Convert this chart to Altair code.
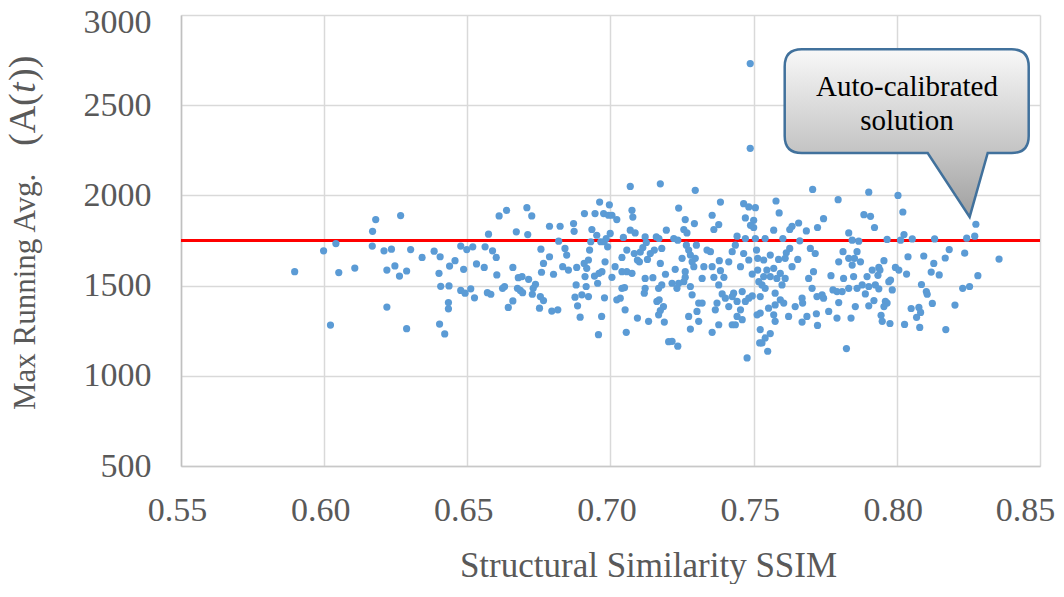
import altair as alt
import pandas as pd

# ---- data ----
ssim_a = [0.5897, 0.5998, 0.6041, 0.6051, 0.6022, 0.6107, 0.6180, 0.6169, 0.6168, 0.6209,
          0.6235, 0.6219, 0.6247, 0.6263, 0.6288, 0.6219, 0.6288, 0.6267, 0.6302, 0.6342]
avg_a = [1577, 1693, 1733, 1572, 1281, 1597, 1866, 1801, 1719, 1693,
         1702, 1586, 1609, 1553, 1581, 1381, 1261, 1888, 1700, 1656]

ssim_b = [0.6384, 0.6405, 0.6401, 0.6407, 0.6403, 0.6421, 0.6434, 0.6434, 0.6436, 0.6438,
          0.6457, 0.6487, 0.6477, 0.6498, 0.6519, 0.6477, 0.6492, 0.6512, 0.6525, 0.6532,
          0.6559, 0.6562, 0.6574, 0.6588, 0.6601, 0.6603, 0.6611, 0.6637, 0.6570, 0.6582,
          0.6623, 0.6630, 0.6643, 0.6659, 0.6659, 0.6671, 0.6678, 0.6691, 0.6675, 0.6685,
          0.6693, 0.6711, 0.6708, 0.6725, 0.6714, 0.6730, 0.6738, 0.6727, 0.6755, 0.6766,
          0.6752, 0.6757, 0.6766, 0.6759, 0.6787, 0.6787, 0.6801, 0.6795, 0.6816, 0.6819]
avg_b = [1691, 1660, 1568, 1496, 1287, 1232, 1406, 1371, 1498, 1608,
         1638, 1590, 1719, 1700, 1715, 1473, 1458, 1482, 1432, 1620,
         1601, 1715, 1785, 1693, 1656, 1559, 1886, 1917, 1461, 1452,
         1485, 1495, 1379, 1415, 1601, 1798, 1544, 1550, 1485, 1473,
         1461, 1783, 1932, 1886, 1535, 1485, 1507, 1452, 1439, 1417,
         1375, 1702, 1623, 1574, 1660, 1829, 1563, 1359, 1366, 1746]

ssim_c = [0.6824, 0.6841, 0.6847, 0.6833, 0.6853, 0.6871, 0.6873, 0.6882, 0.6880, 0.6876,
          0.6885, 0.6894, 0.6900, 0.6909, 0.6908, 0.6911, 0.6917, 0.6923, 0.6915, 0.6923,
          0.6927, 0.6935, 0.6931, 0.6946, 0.6944, 0.6952, 0.6955, 0.6962, 0.6960, 0.6970,
          0.6966, 0.6976, 0.6978, 0.6981, 0.6990, 0.6985, 0.6996, 0.6999, 0.6993, 0.7005,
          0.7022, 0.7005, 0.7016, 0.6979, 0.6969, 0.6958, 0.7022, 0.7034, 0.7040, 0.7049,
          0.7051, 0.7057, 0.7040, 0.7040, 0.7045, 0.7057, 0.7069, 0.7075, 0.7075, 0.7078,
          0.7069, 0.7086, 0.7083, 0.7094, 0.7104, 0.7113, 0.7101, 0.7121, 0.7125, 0.7129,
          0.7121, 0.7118, 0.7121, 0.7133, 0.7139, 0.7148, 0.7153, 0.7160, 0.7169, 0.7174,
          0.7168, 0.7162, 0.7170, 0.7168, 0.7174, 0.7179, 0.7185, 0.7188, 0.7192, 0.7195,
          0.7174, 0.7179, 0.7203, 0.7055, 0.7094]
avg_c = [1829, 1706, 1669, 1605, 1586, 1844, 1801, 1601, 1504, 1436,
         1388, 1325, 1449, 1899, 1623, 1550, 1596, 1642, 1495, 1439,
         1697, 1811, 1743, 1899, 1553, 1779, 1513, 1963, 1568, 1577,
         1743, 1899, 1743, 1632, 1715, 1761, 1948, 1789, 1890, 1890,
         1866, 1546, 1605, 1432, 1329, 1228, 1421, 1430, 1485, 1489,
         1366, 1577, 1656, 1577, 1767, 1697, 2050, 1568, 1917, 1880,
         1807, 1792, 1678, 1642, 1686, 1711, 1632, 1770, 1739, 1645,
         1540, 1458, 1485, 1302, 1678, 1544, 1697, 1770, 1761, 2064,
         1485, 1412, 1421, 1338, 1362, 1706, 1384, 1298, 1563, 1807,
         1623, 1504, 1189, 1241, 1320]

ssim_d = [0.7296, 0.7238, 0.7261, 0.7256, 0.7267, 0.7293, 0.7221, 0.7235, 0.7265, 0.7273,
          0.7300, 0.7279, 0.7250, 0.7285, 0.7296, 0.7226, 0.7261, 0.7291, 0.7326, 0.7337,
          0.7349, 0.7355, 0.7380, 0.7320, 0.7361, 0.7384, 0.7396, 0.7413, 0.7425, 0.7436,
          0.7442, 0.7454, 0.7465, 0.7471, 0.7483, 0.7495, 0.7215, 0.7256, 0.7279, 0.7232,
          0.7285, 0.7308, 0.7320, 0.7302, 0.7273, 0.7308, 0.7366, 0.7372, 0.7378, 0.7390,
          0.7401, 0.7413, 0.7425, 0.7430, 0.7442, 0.7454, 0.7460, 0.7471, 0.7483, 0.7495,
          0.7442, 0.7425, 0.7436, 0.7460, 0.7378, 0.7355, 0.7279, 0.7215, 0.7235, 0.7477,
          0.7355, 0.7361, 0.7378, 0.7384, 0.7465, 0.7483, 0.7506, 0.7471, 0.7500, 0.7500,
          0.7506, 0.7510, 0.7514, 0.7514, 0.7518, 0.7512, 0.7521, 0.7489, 0.7238, 0.7261,
          0.7488, 0.7488]
avg_d = [2028, 1930, 1866, 1811, 1792, 1844, 1761, 1752, 1724, 1697,
         1724, 1669, 1651, 1632, 1651, 1590, 1577, 1605, 1605, 1697,
         1688, 1605, 1638, 1540, 1546, 1583, 1546, 1632, 1688, 1724,
         1774, 1605, 1678, 1761, 1642, 1564, 1513, 1522, 1495, 1485,
         1449, 1403, 1403, 1357, 1329, 1302, 1366, 1403, 1504, 1454,
         1430, 1384, 1439, 1458, 1412, 1366, 1467, 1412, 1430, 1443,
         1329, 1283, 1283, 1311, 1283, 1241, 1259, 1191, 1164, 1099,
         1890, 1811, 1838, 1963, 1954, 1936, 1932, 1875, 1862, 1822,
         1761, 1697, 1651, 1586, 1522, 1338, 1182, 1834, 1513, 1546,
         2731, 2261]

ssim_e = [0.7706, 0.7578, 0.7589, 0.7795, 0.7744, 0.7657, 0.7634, 0.7626, 0.7684, 0.7723,
          0.7570, 0.7540, 0.7602, 0.7661, 0.7698, 0.7715, 0.7626, 0.7614, 0.7610, 0.7587,
          0.7558, 0.7535, 0.7546, 0.7570, 0.7634, 0.7654, 0.7593, 0.7610, 0.7599, 0.7581,
          0.7558, 0.7535, 0.7529, 0.7540, 0.7523, 0.7575, 0.7593, 0.7605, 0.7575, 0.7552,
          0.7570, 0.7575, 0.7523, 0.7622, 0.7645, 0.7669, 0.7671, 0.7692, 0.7709, 0.7704,
          0.7721, 0.7739, 0.7744, 0.7719, 0.7686, 0.7669, 0.7723, 0.7762, 0.7770, 0.7777,
          0.7791, 0.7809, 0.7797, 0.7791, 0.7814, 0.7832, 0.7840, 0.7855, 0.7861, 0.7832,
          0.7812, 0.7797, 0.7832, 0.7844, 0.7849, 0.7852, 0.7861, 0.7844, 0.7867, 0.7523,
          0.7540, 0.7558, 0.7529, 0.7549, 0.7824]
avg_e = [2033, 1969, 1903, 1976, 1871, 1847, 1829, 1811, 1803, 1822,
         1807, 1761, 1761, 1748, 1706, 1678, 1706, 1682, 1651, 1645,
         1669, 1642, 1586, 1596, 1605, 1645, 1568, 1540, 1504, 1540,
         1550, 1550, 1504, 1485, 1439, 1458, 1421, 1403, 1393, 1375,
         1338, 1302, 1348, 1329, 1384, 1430, 1403, 1540, 1577, 1485,
         1439, 1449, 1430, 1344, 1329, 1298, 1279, 1357, 1555, 1476,
         1467, 1467, 1406, 1320, 1540, 1485, 1320, 1384, 1485, 1792,
         1688, 1632, 1651, 1614, 1550, 1651, 1688, 1752, 1746, 1256,
         1210, 1234, 1182, 1136, 1151]

ssim_f = [0.7902, 0.8004, 0.7885, 0.7908, 0.8021, 0.7922, 0.8025, 0.8013, 0.7966, 0.8054,
          0.8132, 0.8244, 0.8272, 0.8276, 0.8183, 0.8237, 0.8169, 0.8094, 0.8039, 0.8129,
          0.7955, 0.7873, 0.7995, 0.8007, 0.8034, 0.8120, 0.8148, 0.8283, 0.8357, 0.7914,
          0.7937, 0.7941, 0.7934, 0.7896, 0.7972, 0.7978, 0.7879, 0.7902, 0.7925, 0.7937,
          0.7890, 0.7984, 0.8086, 0.8103, 0.8106, 0.8230, 0.8254, 0.7960, 0.7966, 0.7955,
          0.7920, 0.7902, 0.8124, 0.8203, 0.8050, 0.8077, 0.8083, 0.8069, 0.7945, 0.7949,
          0.7976, 0.8027, 0.8080, 0.8171]
avg_f = [2018, 2000, 1893, 1884, 1908, 1822, 1783, 1752, 1756, 1759,
         1759, 1763, 1774, 1840, 1700, 1680, 1653, 1664, 1660, 1623,
         1638, 1632, 1601, 1586, 1564, 1575, 1559, 1555, 1647, 1586,
         1601, 1586, 1557, 1550, 1522, 1531, 1504, 1495, 1504, 1482,
         1454, 1476, 1506, 1467, 1452, 1485, 1495, 1412, 1403, 1384,
         1417, 1388, 1401, 1392, 1373, 1379, 1351, 1324, 1335, 1302,
         1290, 1285, 1268, 1256]

threshold = [1750]
x_ticks = [0.55, 0.60, 0.65, 0.70, 0.75, 0.80, 0.85]
y_ticks = [500, 1000, 1500, 2000, 2500, 3000]
callout_lines = ["Auto-calibrated", "solution"]
x_title = "Structural Similarity SSIM"
# (text, font style, font size, start position along the rotated title)
y_title_parts = [("Max Running Avg.", "normal", 31, 395),
                 ("(A(", "normal", 38, 131),
                 ("t", "italic", 38, 78),
                 ("))", "normal", 38, 66)]

ssim = ssim_a + ssim_b + ssim_c + ssim_d + ssim_e + ssim_f
avg = avg_a + avg_b + avg_c + avg_d + avg_e + avg_f
assert len(ssim) == len(avg)
points = pd.DataFrame({"ssim": ssim, "avg": avg})

# ---- styling / layout ----
FONT = "Liberation Serif"
GRAY = "#595959"
W, H = 859, 451

x_scale = alt.Scale(domain=[0.55, 0.85], nice=False, zero=False)
y_scale = alt.Scale(domain=[500, 3000], nice=False, zero=False)

x_axis = alt.Axis(values=x_ticks, format=".2f", title=x_title,
                  titleX=467, titleY=110, titleBaseline="alphabetic", titleAlign="center",
                  titleFont=FONT, titleFontSize=35, titleFontWeight="normal", titleColor=GRAY,
                  labelFont=FONT, labelFontSize=34, labelColor=GRAY, labelPadding=27,
                  labelOffset={"condition": {"test": "datum.value >= 0.849", "value": -15},
                               "value": -4},
                  ticks=False, tickSize=0, grid=True, gridColor="#d9d9d9", gridWidth=1.5,
                  domainColor="#c8c8c8", domainWidth=1.5, labelFlush=False)
y_axis = alt.Axis(values=y_ticks, format="d", title=None,
                  labelFont=FONT, labelFontSize=34, labelColor=GRAY, labelPadding=30,
                  labelOffset={"condition": {"test": "datum.value >= 2999", "value": 7},
                               "value": 0},
                  ticks=False, tickSize=0, grid=True, gridColor="#d9d9d9", gridWidth=1.5,
                  domainColor="#c0c0c0", domainWidth=1.5)

rule = alt.Chart(pd.DataFrame({"avg": threshold})).mark_rule(
    color="#FF0000", strokeWidth=3
).encode(y=alt.Y("avg:Q", scale=y_scale, axis=y_axis))

scatter = alt.Chart(points).mark_circle(size=52, color="#5B9BD5", opacity=1).encode(
    x=alt.X("ssim:Q", scale=x_scale, axis=x_axis),
    y=alt.Y("avg:Q", scale=y_scale, axis=y_axis),
)

CALLOUT_PATH = ("M -0.86,-0.69 L 0.86,-0.69 Q 1,-0.69 1,-0.55 L 1,0.02 Q 1,0.16 0.86,0.16 "
                "L 0.664,0.16 L 0.516,0.684 L 0.172,0.16 L -0.86,0.16 Q -1,0.16 -1,0.02 "
                "L -1,-0.55 Q -1,-0.69 -0.86,-0.69 Z")
grad = alt.Gradient(gradient="linear", x1=0, y1=0, x2=0, y2=1,
                    stops=[alt.GradientStop(offset=0, color="#f8f8f8"),
                           alt.GradientStop(offset=0.62, color="#c3c3c3"),
                           alt.GradientStop(offset=1, color="#a0a0a0")])
callout = alt.Chart(pd.DataFrame({"k": [0]})).mark_point(
    shape=CALLOUT_PATH, size=244 * 244, filled=True, fill=grad, opacity=1,
    stroke="#41719C", strokeWidth=2.5, strokeOpacity=1, fillOpacity=1
).encode(x=alt.value(725.7), y=alt.value(118.5))

layers = [rule, scatter, callout]
for line, ypos in zip(callout_lines, [81, 115]):
    layers.append(
        alt.Chart(pd.DataFrame({"t": [line]})).mark_text(
            font=FONT, fontSize=29, color="#000000", align="center", baseline="alphabetic"
        ).encode(text="t:N", x=alt.value(726), y=alt.value(ypos))
    )

# y-axis title drawn in pieces so the "t" can be italic
for part, style, fsize, ypos in y_title_parts:
    layers.append(
        alt.Chart(pd.DataFrame({"t": [part]})).mark_text(
            font=FONT, fontSize=fsize, fontStyle=style, color=GRAY, angle=270,
            align="left", baseline="alphabetic"
        ).encode(text="t:N", x=alt.value(-146), y=alt.value(ypos))
    )

chart = alt.layer(*layers).properties(
    width=W, height=H,
    autosize=alt.AutoSizeParams(type="none"),
    padding={"left": 173, "top": 7, "right": 16, "bottom": 118},
    background="#ffffff",
).configure_view(stroke=None)

chart.save("out.html", embed_options={"renderer": "svg", "actions": False})
